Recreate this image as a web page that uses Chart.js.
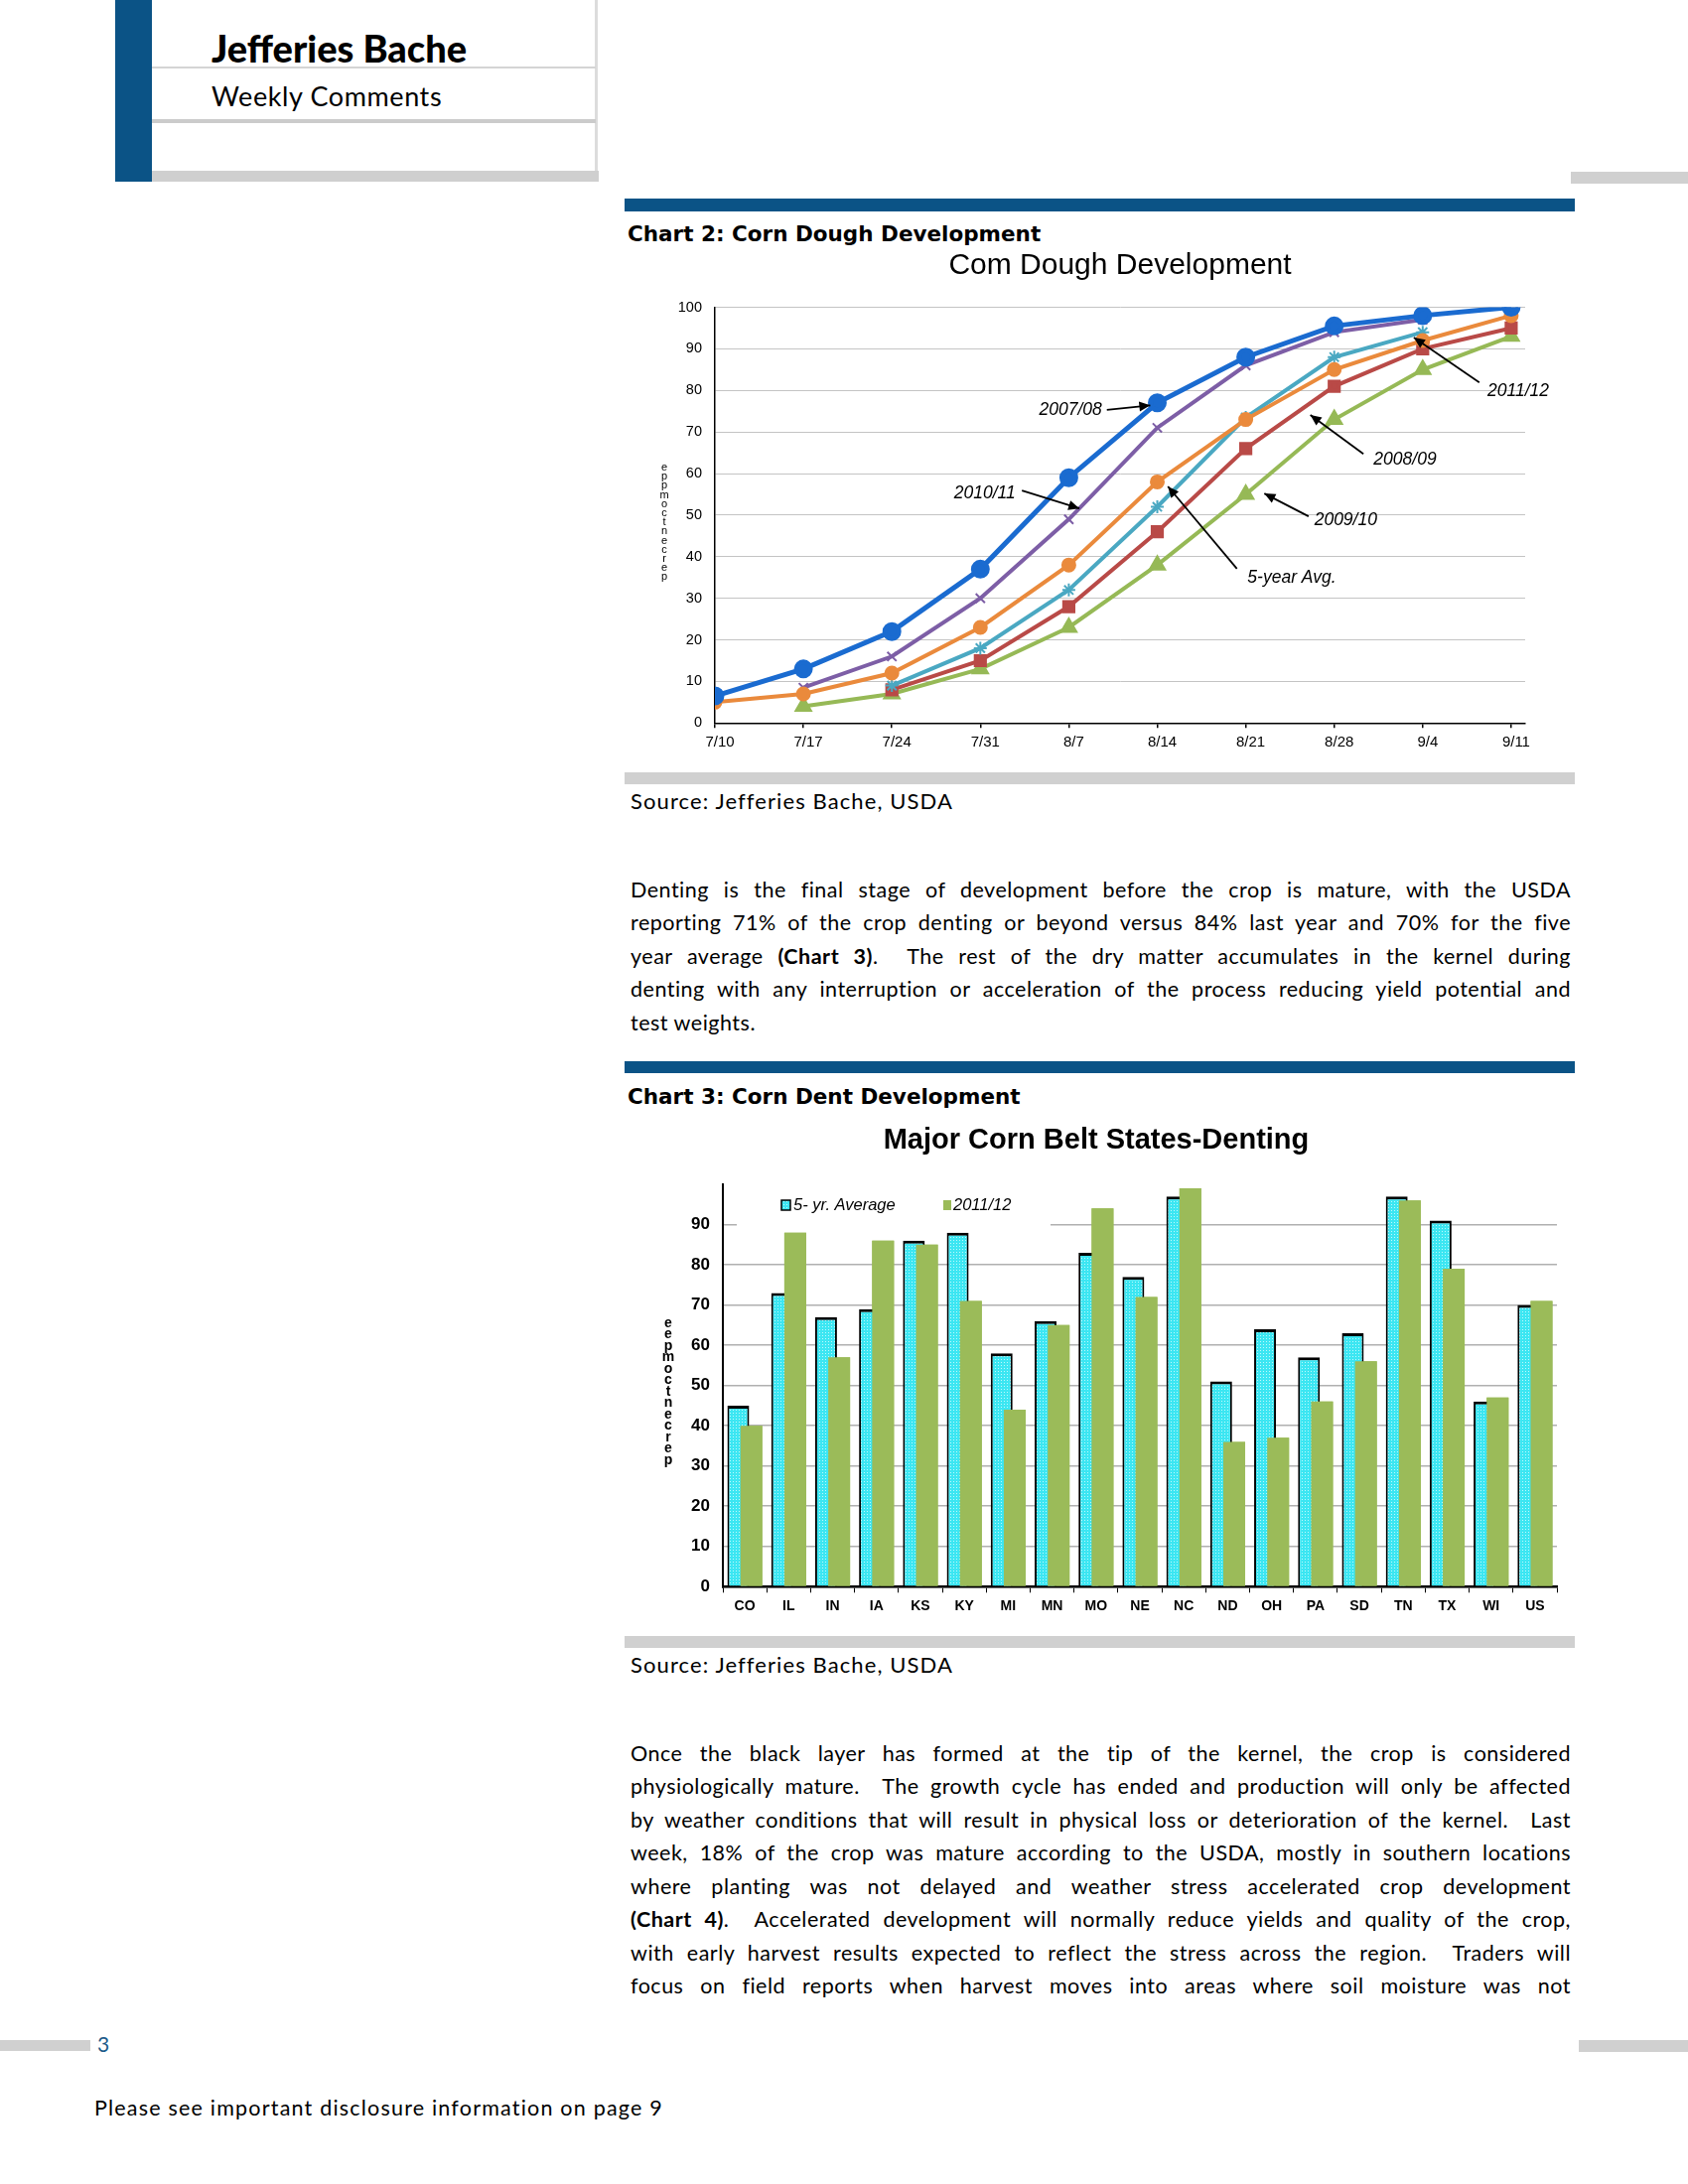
<!DOCTYPE html>
<html><head><meta charset="utf-8">
<script src="https://cdn.jsdelivr.net/npm/chart.js@4.4.1/dist/chart.umd.min.js"></script>
<style>
html,body{margin:0;padding:0;background:#fff;}
body{width:1700px;height:2200px;position:relative;overflow:hidden;font-family:Lato,'Open Sans',sans-serif;color:#000;}
.box{position:absolute;}
.t{position:absolute;white-space:nowrap;line-height:1;}
.para{position:absolute;left:635px;width:947px;font-size:21.5px;line-height:33.45px;letter-spacing:0.5px;}
.para div{text-align:justify;text-align-last:justify;white-space:nowrap;height:33.45px;}
.para div.last{text-align-last:left;}
.cv{position:absolute;}
</style>
</head>
<body>
<!-- header -->
<div class="box" style="left:116px;top:0;width:37px;height:183px;background:#0b5386"></div>
<div class="box" style="left:599px;top:0;width:3px;height:183px;background:#dcdcdc"></div>
<div class="box" style="left:153px;top:67px;width:447px;height:2px;background:#d4d4d4"></div>
<div class="box" style="left:153px;top:120px;width:447px;height:4px;background:#cbcbcb"></div>
<div class="box" style="left:153px;top:172px;width:450px;height:11px;background:#cfcfcf"></div>
<div class="t" style="left:213px;top:29px;font-size:38px;font-weight:900;">Jefferies Bache</div>
<div class="t" style="left:213px;top:83px;font-size:27px;letter-spacing:0.6px;">Weekly Comments</div>
<div class="box" style="left:1582px;top:173px;width:118px;height:12px;background:#d0d0d0"></div>

<!-- chart 2 block -->
<div class="box" style="left:629px;top:200px;width:957px;height:13px;background:#0b5386"></div>
<div class="t" style="left:632px;top:225px;font-family:'DejaVu Sans';font-weight:700;font-size:21.5px;">Chart 2: Corn Dough Development</div>
<canvas id="c2" class="cv" style="left:629px;top:245px;width:957px;height:540px" width="957" height="540"></canvas>
<div class="box" style="left:629px;top:778px;width:957px;height:12px;background:#d0d0d0"></div>
<div class="t" style="left:635px;top:795.5px;font-size:22px;letter-spacing:1.1px;">Source: Jefferies Bache, USDA</div>

<div class="para" style="top:880px">
<div>Denting is the final stage of development before the crop is mature, with the USDA</div>
<div>reporting 71% of the crop denting or beyond versus 84% last year and 70% for the five</div>
<div>year average <b>(Chart 3)</b>.&nbsp; The rest of the dry matter accumulates in the kernel during</div>
<div>denting with any interruption or acceleration of the process reducing yield potential and</div>
<div class="last">test weights.</div>
</div>

<!-- chart 3 block -->
<div class="box" style="left:629px;top:1069px;width:957px;height:12px;background:#0b5386"></div>
<div class="t" style="left:632px;top:1094px;font-family:'DejaVu Sans';font-weight:700;font-size:21.5px;">Chart 3: Corn Dent Development</div>
<canvas id="c3" class="cv" style="left:629px;top:1125px;width:957px;height:520px" width="957" height="520"></canvas>
<div class="box" style="left:629px;top:1648px;width:957px;height:12px;background:#d0d0d0"></div>
<div class="t" style="left:635px;top:1665.5px;font-size:22px;letter-spacing:1.1px;">Source: Jefferies Bache, USDA</div>

<div class="para" style="top:1750px">
<div>Once the black layer has formed at the tip of the kernel, the crop is considered</div>
<div>physiologically mature.&nbsp; The growth cycle has ended and production will only be affected</div>
<div>by weather conditions that will result in physical loss or deterioration of the kernel.&nbsp; Last</div>
<div>week, 18% of the crop was mature according to the USDA, mostly in southern locations</div>
<div>where planting was not delayed and weather stress accelerated crop development</div>
<div><b>(Chart 4)</b>.&nbsp; Accelerated development will normally reduce yields and quality of the crop,</div>
<div>with early harvest results expected to reflect the stress across the region.&nbsp; Traders will</div>
<div>focus on field reports when harvest moves into areas where soil moisture was not</div>
</div>

<!-- footer -->
<div class="box" style="left:0;top:2055px;width:91px;height:11px;background:#d0d0d0"></div>
<div class="t" style="left:98px;top:2047.5px;font-size:21px;color:#1c5b8a;">3</div>
<div class="box" style="left:1590px;top:2055px;width:110px;height:12px;background:#d0d0d0"></div>
<div class="t" style="left:95px;top:2113px;font-size:21.5px;letter-spacing:1.2px;">Please see important disclosure information on page 9</div>

<script>
// ---------- Chart 2 data ----------
const weekLabels = ['7/10','7/17','7/24','7/31','8/7','8/14','8/21','8/28','9/4','9/11'];
const dough0708 = [6.5, 13, 22, 37, 59, 77, 88, 95.5, 98, 100];
const dough1011 = [null, 8.5, 16, 30, 49, 71, 86, 94, 97, null];
const dough5yr  = [5, 7, 12, 23, 38, 58, 73, 85, 92, 98];
const dough1112 = [null, null, 9, 18, 32, 52, 73.5, 88, 94, null];
const dough0809 = [null, null, 8, 15, 28, 46, 66, 81, 90, 95];
const dough0910 = [null, 4, 7, 13, 23, 38, 55, 73, 85, 93];

// ---------- Chart 3 data ----------
const states = ['CO','IL','IN','IA','KS','KY','MI','MN','MO','NE','NC','ND','OH','PA','SD','TN','TX','WI','US'];
const dent5yr  = [45, 73, 67, 69, 86, 88, 58, 66, 83, 77, 97, 51, 64, 57, 63, 97, 91, 46, 70];
const dent1112 = [40, 88, 57, 86, 85, 71, 44, 65, 94, 72, 99, 36, 37, 46, 56, 96, 79, 47, 71];

// callout layout for chart 2 (data units): text centre, arrow start, arrow tip
const callouts = [
  {text:'2007/08', tx:4.02, ty:75.3, fx:4.43, fy:75.3, ax:4.92, ay:76.4},
  {text:'2010/11', tx:3.05, ty:55.2, fx:3.47, fy:55.9, ax:4.12, ay:51.6},
  {text:'5-year Avg.', tx:6.52, ty:34.9, fx:5.90, fy:37.1, ax:5.12, ay:56.9},
  {text:'2009/10', tx:7.13, ty:48.7, fx:6.71, fy:49.7, ax:6.21, ay:55.2},
  {text:'2008/09', tx:7.80, ty:63.4, fx:7.33, fy:64.7, ax:6.73, ay:74.1},
  {text:'2011/12', tx:9.08, ty:79.8, fx:8.64, fy:81.9, ax:7.90, ay:92.7}
];

const FONT = "'Liberation Sans', Arial, sans-serif";
const toXY = arr => arr.map((v,i)=>({x:i, y:v}));

const calloutPlugin = {
  id:'callouts',
  afterDatasetsDraw(chart){
    const {ctx, scales:{x,y}} = chart;
    ctx.save();
    ctx.font = 'italic 17.5px ' + FONT;
    ctx.fillStyle = '#000'; ctx.strokeStyle = '#000'; ctx.lineWidth = 1.8;
    ctx.textAlign='center'; ctx.textBaseline='middle';
    callouts.forEach(c=>{
      ctx.fillText(c.text, x.getPixelForValue(c.tx), y.getPixelForValue(c.ty));
      const x1=x.getPixelForValue(c.fx), y1=y.getPixelForValue(c.fy);
      const x2=x.getPixelForValue(c.ax), y2=y.getPixelForValue(c.ay);
      ctx.beginPath(); ctx.moveTo(x1,y1); ctx.lineTo(x2,y2); ctx.stroke();
      const ang=Math.atan2(y2-y1,x2-x1), L=11, W=5;
      ctx.beginPath();
      ctx.moveTo(x2,y2);
      ctx.lineTo(x2-L*Math.cos(ang)+W*Math.sin(ang), y2-L*Math.sin(ang)-W*Math.cos(ang));
      ctx.lineTo(x2-L*Math.cos(ang)-W*Math.sin(ang), y2-L*Math.sin(ang)+W*Math.cos(ang));
      ctx.closePath(); ctx.fill();
    });
    ctx.restore();
  }
};

const stackTitlePlugin = {
  id:'stackTitle',
  afterDraw(chart, args, o){
    const {ctx} = chart;
    ctx.save();
    ctx.font = o.font; ctx.fillStyle='#000'; ctx.textAlign='center'; ctx.textBaseline='middle';
    [...o.text].forEach((ch,i)=>ctx.fillText(ch, o.x, o.y + i*o.step));
    ctx.restore();
  }
};

new Chart(document.getElementById('c2'), {
  type:'line',
  data:{
    datasets:[
      {label:'2007/08', data:toXY(dough0708), borderColor:'#1a6bd0', backgroundColor:'#1a6bd0', borderWidth:5, pointStyle:'circle', pointRadius:7},
      {label:'5-year Avg.', data:toXY(dough5yr), borderColor:'#ea8a3c', backgroundColor:'#ea8a3c', borderWidth:4, pointStyle:'circle', pointRadius:5.5},
      {label:'2011/12', data:toXY(dough1112), borderColor:'#4aa8c2', backgroundColor:'#4aa8c2', borderWidth:4, pointStyle:'star', pointRadius:6.5, pointBorderWidth:2},
      {label:'2010/11', data:toXY(dough1011), borderColor:'#7d5ea6', backgroundColor:'#7d5ea6', borderWidth:4, pointStyle:'crossRot', pointRadius:6.5, pointBorderWidth:2},
      {label:'2008/09', data:toXY(dough0809), borderColor:'#b94a47', backgroundColor:'#b94a47', borderWidth:4, pointStyle:'rect', pointRadius:6.5},
      {label:'2009/10', data:toXY(dough0910), borderColor:'#96b956', backgroundColor:'#96b956', borderWidth:4, pointStyle:'triangle', pointRadius:7}
    ]
  },
  options:{
    responsive:false, animation:false, devicePixelRatio:1,
    layout:{padding:{left:0, right:50, top:0, bottom:0}},
    elements:{line:{tension:0}},
    plugins:{
      legend:{display:false}, tooltip:{enabled:false},
      title:{display:true, fullSize:false, text:'Com Dough Development', color:'#000', font:{family:FONT, size:30, weight:'normal', lineHeight:1.2}, padding:{top:4.5, bottom:24}},
      stackTitle:{text:'eppmoctnecrep', x:40, y:226, step:9.2, font:'11px '+FONT}
    },
    scales:{
      x:{type:'linear', min:0, max:9.158,
        border:{color:'#000', width:1.5},
        grid:{drawOnChartArea:false, drawTicks:true, tickLength:5, color:'#000', lineWidth:1.5},
        ticks:{stepSize:1, includeBounds:false, autoSkip:false, maxRotation:0, padding:6, labelOffset:5, color:'#000', font:{family:FONT, size:15},
          callback:v=>weekLabels[v] ?? ''},
        afterFit:s=>{s.height=56.7;}
      },
      y:{min:0, max:100,
        border:{color:'#000', width:1.5},
        grid:{color:'#c4c4c4', lineWidth:1, drawTicks:false},
        ticks:{stepSize:10, padding:13, color:'#000', font:{family:FONT, size:14.5}},
        afterFit:s=>{s.width=91;}
      }
    }
  },
  plugins:[calloutPlugin, stackTitlePlugin]
});

// ---------- Chart 3 ----------
function cyanPattern(){
  const c=document.createElement('canvas'); c.width=3; c.height=3;
  const x=c.getContext('2d');
  x.fillStyle='#3ce6f2'; x.fillRect(0,0,3,3);
  x.fillStyle='#bff8fc'; x.fillRect(1,1,1,1);
  return x.createPattern(c,'repeat');
}
const cyanFill = cyanPattern();

const redrawTopPlugin = {
  id:'redrawTop',
  afterDatasetsDraw(chart){
    const ca=chart.chartArea, ctx=chart.ctx;
    ctx.save(); ctx.beginPath(); ctx.rect(ca.left, ca.top, ca.right-ca.left, ca.bottom-ca.top); ctx.clip();
    chart.getDatasetMeta(1).controller.draw();
    ctx.restore();
  }
};
const barLegendPlugin = {
  id:'barLegend',
  beforeDatasetsDraw(chart){
    const {ctx, chartArea:ca} = chart;
    const ds = chart.data.datasets;
    ctx.save();
    ctx.fillStyle='#fff'; ctx.fillRect(ca.left+14, ca.top+5, 316, 38);
    ctx.font='italic 16.5px '+FONT; ctx.textBaseline='middle'; ctx.textAlign='left';
    ctx.fillStyle=cyanFill; ctx.fillRect(ca.left+59, ca.top+16, 9, 10);
    ctx.strokeStyle='#000'; ctx.lineWidth=1.5; ctx.strokeRect(ca.left+59, ca.top+16, 9, 10);
    ctx.fillStyle='#000'; ctx.fillText(ds[0].label, ca.left+71, ca.top+21);
    ctx.fillStyle='#9bbb59'; ctx.fillRect(ca.left+222, ca.top+16, 8, 10);
    ctx.fillStyle='#000'; ctx.fillText(ds[1].label, ca.left+232, ca.top+21);
    ctx.restore();
  }
};

new Chart(document.getElementById('c3'), {
  type:'bar',
  data:{
    labels:states,
    datasets:[
      {label:'5- yr. Average', data:dent5yr, backgroundColor:cyanFill, borderColor:'#000', borderWidth:{top:3, left:2, right:2, bottom:0}, borderSkipped:false,
        categoryPercentage:0.597, barPercentage:1.667},
      {label:'2011/12', data:dent1112, backgroundColor:'#9bbb59', borderWidth:0,
        categoryPercentage:0.597, barPercentage:1.667}
    ]
  },
  options:{
    responsive:false, animation:false, devicePixelRatio:1,
    layout:{padding:{left:11, right:18, top:0, bottom:0}},
    plugins:{
      legend:{display:false}, tooltip:{enabled:false},
      title:{display:true, text:'Major Corn Belt States-Denting', color:'#000', font:{family:FONT, size:29, weight:'bold', lineHeight:1.2}, padding:{top:7, bottom:26.2}},
      stackTitle:{text:'eepmoctnecrep', x:44, y:208, step:11.5, font:'bold 14px '+FONT}
    },
    scales:{
      x:{
        border:{color:'#000', width:2.5},
        grid:{drawOnChartArea:false, drawTicks:true, tickLength:6, color:'#000', lineWidth:1, offset:true},
        ticks:{padding:5, color:'#000', font:{family:FONT, size:14, weight:'bold'}, autoSkip:false, maxRotation:0},
        afterFit:s=>{s.height=46.7;}
      },
      y:{min:0, max:100,
        border:{color:'#000', width:2},
        grid:{color:c=>c.tick && c.tick.value===100 ? 'rgba(0,0,0,0)' : '#b0b0b0', lineWidth:1.5, drawTicks:false},
        ticks:{stepSize:10, padding:13, color:'#000', font:{family:FONT, size:17, weight:'bold'},
          callback:v=> v===100 ? '' : v},
        afterFit:s=>{s.width=88;}
      }
    }
  },
  plugins:[barLegendPlugin, redrawTopPlugin, stackTitlePlugin]
});
</script>
</body></html>
